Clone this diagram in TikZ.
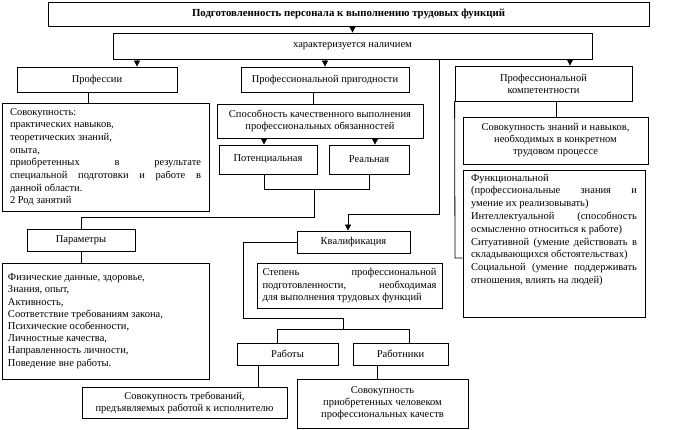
\documentclass[tikz,border=0pt]{standalone}
\usepackage{fontspec}
\setmainfont{Liberation Serif}
\usetikzlibrary{arrows.meta}
\newcommand\jl[1]{\makebox[\hsize][s]{#1}}
% \pbx{width}{height}{leading}{inner pos}{content}
\newcommand\pbx[5]{\parbox[c][#2][#4]{#1}{\fontsize{10.5pt}{#3}\selectfont #5}}
\begin{document}
\begin{tikzpicture}[x=1pt,y=-1pt,
  box/.style={draw, line width=0.8pt, inner sep=0pt, align=center,
    font=\fontsize{10.5pt}{12pt}\selectfont},
  arr/.style={line width=0.8pt, -{Triangle[width=6pt,length=6pt]}},
  ln/.style={line width=0.8pt}]
\useasboundingbox (0,0) rectangle (682,430);
\fill[white] (0,0) rectangle (682,430);

% top level
\node[box, minimum width=601pt, minimum height=24pt, font=\fontsize{10.8pt}{12pt}\selectfont\bfseries]
  (title) at (348.5,14) {Подготовленность персонала к выполнению трудовых функций};
\node[box, minimum width=479pt, minimum height=26pt] (ch) at (352.5,46) {характеризуется наличием};

% second level
\node[box, minimum width=160pt, minimum height=25pt] (prof) at (97,79.5) {Профессии};
\node[box, minimum width=168pt, minimum height=25pt] (prig) at (325,79.5) {Профессиональной пригодности};
\node[box, minimum width=177pt, minimum height=35pt] (comp) at (543.5,83.5) {Профессиональной\\компетентности};

% profession branch
\node[box, minimum width=207pt, minimum height=108pt] (sovok) at (105.5,157) {\pbx{191pt}{104pt}{12.7pt}{c}{Совокупность:\\
практических навыков,\\
теоретических знаний,\\
опыта,\\
\jl{приобретенных в результате}\\
\jl{специальной подготовки и работе в}\\
данной области.\\
2 Род занятий}};

% suitability branch
\node[box, minimum width=206pt, minimum height=34pt] (spos) at (320,121) {Способность качественного выполнения\\профессиональных обязанностей};
\node[box, minimum width=98pt, minimum height=29pt] (pot) at (268,159.5) {Потенциальная};
\node[box, minimum width=80pt, minimum height=29pt] (real) at (369,159.5) {Реальная};
\node[box, minimum width=108pt, minimum height=22pt] (par) at (81,240) {Параметры};
\node[box, minimum width=207pt, minimum height=116pt] (plist) at (105.5,321) {\pbx{195pt}{110pt}{12.2pt}{c}{Физические данные, здоровье,\\
Знания, опыт,\\
Активность,\\
Соответствие требованиям закона,\\
Психические особенности,\\
Личностные качества,\\
Направленность личности,\\
Поведение вне работы.}};

% qualification branch
\node[box, minimum width=113pt, minimum height=22pt] (kval) at (353.5,242) {Квалификация};
\node[box, minimum width=185pt, minimum height=45pt] (step) at (349.5,285.5) {\pbx{174pt}{41pt}{12.5pt}{c}{\jl{Степень профессиональной}\\
\jl{подготовленности, необходимая}\\
для выполнения трудовых функций}};
\node[box, minimum width=101pt, minimum height=22pt] (rab) at (287.5,354) {Работы};
\node[box, minimum width=95pt, minimum height=22pt] (rabn) at (400.5,354) {Работники};
\node[box, minimum width=205pt, minimum height=31pt] (treb) at (184.5,402.5) {Совокупность требований,\\предъявляемых работой к исполнителю};
\node[box, minimum width=171pt, minimum height=49pt] (priobr) at (382.5,403.5) {Совокупность\\приобретенных человеком\\профессиональных качеств};

% competence branch
\node[box, minimum width=185pt, minimum height=47pt] (znan) at (555.5,140.5) {Совокупность знаний и навыков,\\необходимых в конкретном\\трудовом процессе};
\node[box, minimum width=182pt, minimum height=147pt] (func) at (554,243.5) {\pbx{166pt}{139pt}{12.8pt}{t}{Функциональной\\
\jl{(профессиональные знания и}\\
умение их реализовывать)\\
\jl{Интеллектуальной (способность}\\
осмысленно относиться к работе)\\
\jl{Ситуативной (умение действовать в}\\
складывающихся обстоятельствах)\\
\jl{Социальной (умение поддерживать}\\
отношения, влиять на людей)}};

% helper coordinates
\coordinate (xa) at (137,0);
\coordinate (xc) at (570,0);
\coordinate (j1) at (439,214);
\coordinate (j2) at (348,214);
\coordinate (xs) at (88,0);
\coordinate (xp) at (313,0);
\coordinate (xpot) at (264,0);
\coordinate (xreal) at (375,0);
\coordinate (b1) at (264,189);
\coordinate (b2) at (369,189);
\coordinate (m1) at (314,189);
\coordinate (m2) at (314,217);
\coordinate (m3) at (81,217);
\coordinate (xz) at (556,0);
\coordinate (fj) at (455,258);
\coordinate (k2) at (243,318);
\coordinate (k3) at (343,318);
\coordinate (k4) at (343,329);
\coordinate (r1) at (277,329);
\coordinate (r2) at (409,329);
\coordinate (xt) at (258,0);
\coordinate (xq) at (377,0);

% connectors
\draw[arr] (title.south -| ch.north) -- (ch.north);
\draw[arr] (ch.south -| xa) -- (prof.north -| xa);
\draw[arr] (ch.south -| prig.north) -- (prig.north);
\draw[arr] (ch.south -| xc) -- (comp.north -| xc);
\draw[arr] (ch.south -| j1) -- (j1) -- (j2) -- (kval.north -| j2);

\draw[ln] (prof.south -| xs) -- (sovok.north -| xs);
\draw[ln] (prig.south -| xp) -- (spos.north -| xp);
\draw[arr] (spos.south -| xpot) -- (pot.north -| xpot);
\draw[arr] (spos.south -| xreal) -- (real.north -| xreal);
\draw[ln] (pot.south -| b1) -- (b1) -- (b2) -- (real.south -| b2);
\draw[ln] (m1) -- (m2) -- (m3) -- (par.north);
\draw[ln] (par.south) -- (plist.north -| par.south);

\draw[ln] (comp.south -| xz) -- (znan.north -| xz);
\draw[ln] (comp.south west) -- (fj) -- (func.west |- fj);

\draw[ln] (kval.west) -| (k2) -- (k3) -- (k4);
\draw[ln] (rab.north -| r1) -- (r1) -- (r2) -- (rabn.north -| r2);
\draw[ln] (rab.south -| xt) -- (treb.north -| xt);
\draw[ln] (rabn.south -| xq) -- (priobr.north -| xq);
\end{tikzpicture}
\end{document}
